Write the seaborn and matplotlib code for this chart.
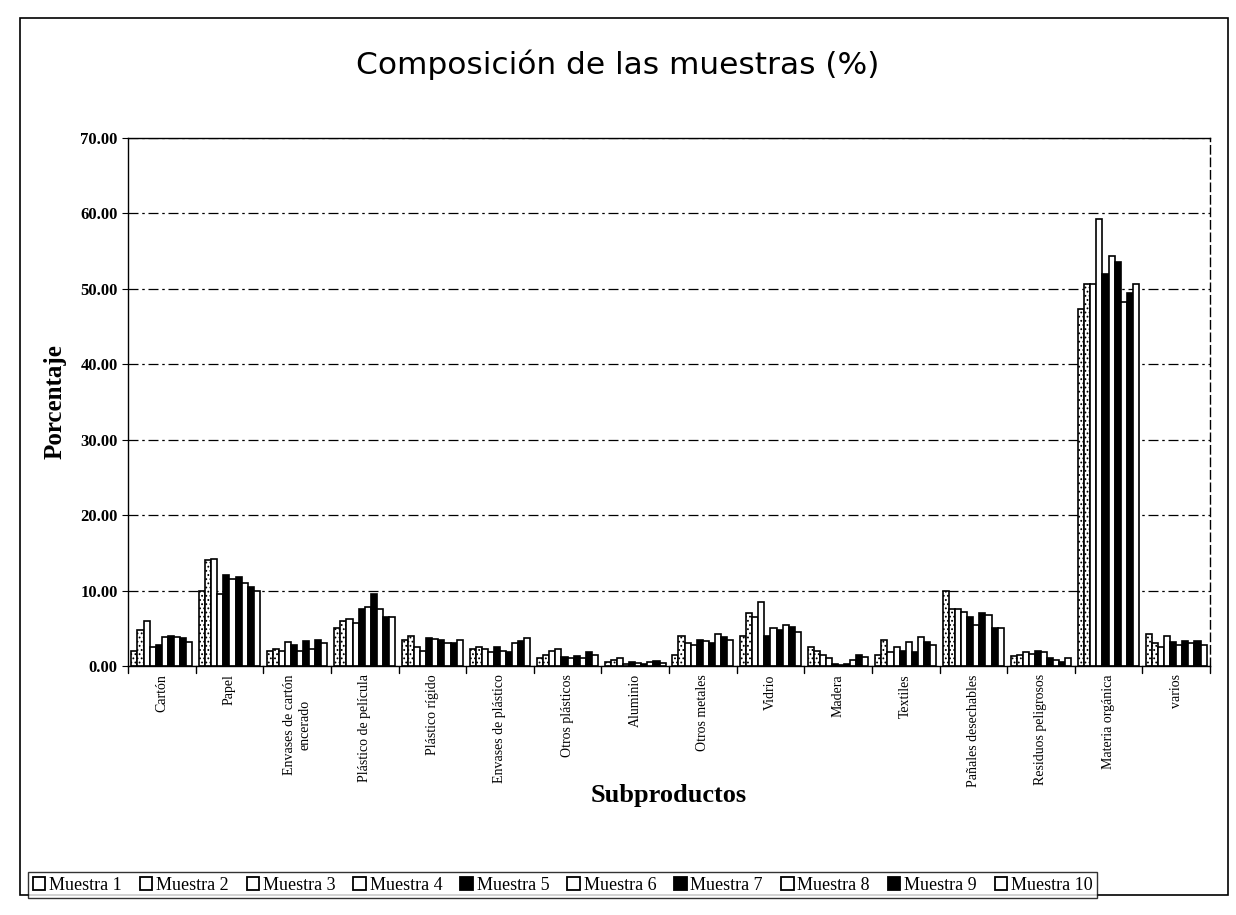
import pandas as pd
import numpy as np
import matplotlib
import matplotlib.pyplot as plt
from matplotlib.patches import Rectangle
import seaborn as sns

categorias = [
    "Cartón", "Papel", "Envases de cartón\nencerado", "Plástico de película",
    "Plástico rígido", "Envases de plástico", "Otros plásticos", "Aluminio",
    "Otros metales", "Vidrio", "Madera", "Textiles", "Pañales desechables",
    "Residuos peligrosos", "Materia orgánica", "varios",
]
muestras = [f"Muestra {i}" for i in range(1, 11)]

m1 = [2.0, 10.0, 2.0, 5.0, 3.5, 2.2, 1.0, 0.5, 1.5, 4.0, 2.5, 1.5, 10.0, 1.3, 47.3, 4.3]
m2 = [4.8, 14.0, 2.3, 6.0, 4.0, 2.5, 1.5, 0.8, 4.0, 7.0, 2.0, 3.5, 7.5, 1.5, 50.7, 3.0]
m3 = [6.0, 14.2, 2.0, 6.2, 2.5, 2.3, 2.0, 1.0, 3.0, 6.5, 1.5, 1.8, 7.5, 1.8, 50.7, 2.5]
m4 = [2.5, 9.5, 3.2, 5.7, 2.0, 1.8, 2.2, 0.3, 2.8, 8.5, 1.0, 2.5, 7.2, 1.6, 59.3, 4.0]
m5 = [2.8, 12.0, 2.8, 7.5, 3.7, 2.5, 1.2, 0.5, 3.5, 4.0, 0.2, 2.0, 6.5, 2.0, 52.0, 3.2]
m6 = [3.8, 11.5, 2.0, 7.8, 3.6, 2.0, 1.0, 0.4, 3.3, 5.0, 0.1, 3.2, 5.5, 1.8, 54.3, 2.8]
m7 = [4.0, 11.8, 3.3, 9.5, 3.5, 1.8, 1.3, 0.3, 3.0, 4.8, 0.2, 1.8, 7.0, 1.0, 53.5, 3.3]
m8 = [3.9, 11.0, 2.2, 7.5, 3.0, 3.0, 1.0, 0.5, 4.2, 5.5, 0.8, 3.8, 6.8, 0.8, 48.2, 3.0]
m9 = [3.7, 10.5, 3.4, 6.5, 3.0, 3.3, 1.8, 0.6, 3.8, 5.2, 1.5, 3.2, 5.0, 0.5, 49.5, 3.3]
m10 = [3.2, 10.0, 3.0, 6.5, 3.5, 3.7, 1.5, 0.4, 3.5, 4.5, 1.2, 2.8, 5.0, 1.0, 50.6, 2.8]
series = [m1, m2, m3, m4, m5, m6, m7, m8, m9, m10]

colores = ["white", "white", "white", "white", "black",
           "white", "black", "white", "black", "white"]
tramas = ["....", "....", "", "", "", "", "", "", "", ""]

df = pd.DataFrame(
    [(c, m, v) for m, s in zip(muestras, series) for c, v in zip(categorias, s)],
    columns=["Subproducto", "Muestra", "Porcentaje"],
)

sns.set_style("white")
plt.rcParams["font.family"] = ["Liberation Serif", "DejaVu Serif"]
plt.rcParams["hatch.linewidth"] = 0.8
for k in ["text.color", "axes.labelcolor", "xtick.color", "ytick.color"]:
    plt.rcParams[k] = "black"

fig = plt.figure(figsize=(12.36, 9.15), dpi=100)
ax = fig.add_axes([128 / 1236, 1 - 666 / 915, (1210 - 128) / 1236, (666 - 138) / 915])

sns.barplot(
    data=df, x="Subproducto", y="Porcentaje", hue="Muestra",
    palette=dict(zip(muestras, colores)), edgecolor="black", linewidth=1.2,
    width=0.9, gap=0.0, ax=ax, legend=False,
)
for cont, t in zip(ax.containers, tramas):
    for bar in cont:
        bar.set_hatch(t)

ax.set_xlim(-0.5, len(categorias) - 0.5)
ax.set_ylim(0, 70)
ax.set_yticks(np.arange(0, 71, 10))
ax.set_yticklabels([f"{v:.2f}" for v in np.arange(0, 71, 10)],
                   fontsize=12, fontweight="bold")
ax.yaxis.grid(True, color="black", linestyle=(0, (8, 3, 2, 3)), linewidth=0.9)
ax.set_axisbelow(True)
for s in ax.spines.values():
    s.set_color("black")
    s.set_linewidth(1.0)
ax.spines["right"].set_linestyle((0, (6, 3)))

ax.set_xticks(np.arange(len(categorias)))
ax.set_xticklabels(categorias, rotation=90, fontsize=10, va="top", ha="center")
ax.tick_params(axis="x", length=0, pad=6)
ax.tick_params(axis="y", length=4, direction="out", left=True, color="black")
for b in np.arange(-0.5, len(categorias), 1):
    ax.plot([b, b], [0, -0.9], color="black", lw=1, clip_on=False)

ax.set_xlabel("Subproductos", fontsize=19, fontweight="bold", labelpad=-2)
ax.set_ylabel("Porcentaje", fontsize=18, fontweight="bold", labelpad=10)

fig.text(0.5, 1 - 65 / 915, "Composición de las muestras (%)",
         ha="center", va="center", fontsize=22.5, family="DejaVu Sans")

# marco exterior
fig.patches.append(Rectangle((20 / 1236, 20 / 915), 1208 / 1236, 877 / 915,
                             transform=fig.transFigure, fill=False,
                             edgecolor="black", linewidth=1.2))

handles = [Rectangle((0, 0), 1, 1, facecolor=c, edgecolor="black", linewidth=1.3)
           for c in colores]
fig.legend(handles, muestras, loc="center left", ncol=10,
           bbox_to_anchor=(28 / 1236, 1 - 885 / 915), fontsize=13,
           frameon=True, fancybox=False, edgecolor="black",
           handlelength=0.7, handleheight=0.7, handletextpad=0.2,
           columnspacing=1.0, borderpad=0.25, borderaxespad=0)

fig.savefig("out.png", dpi=100)
